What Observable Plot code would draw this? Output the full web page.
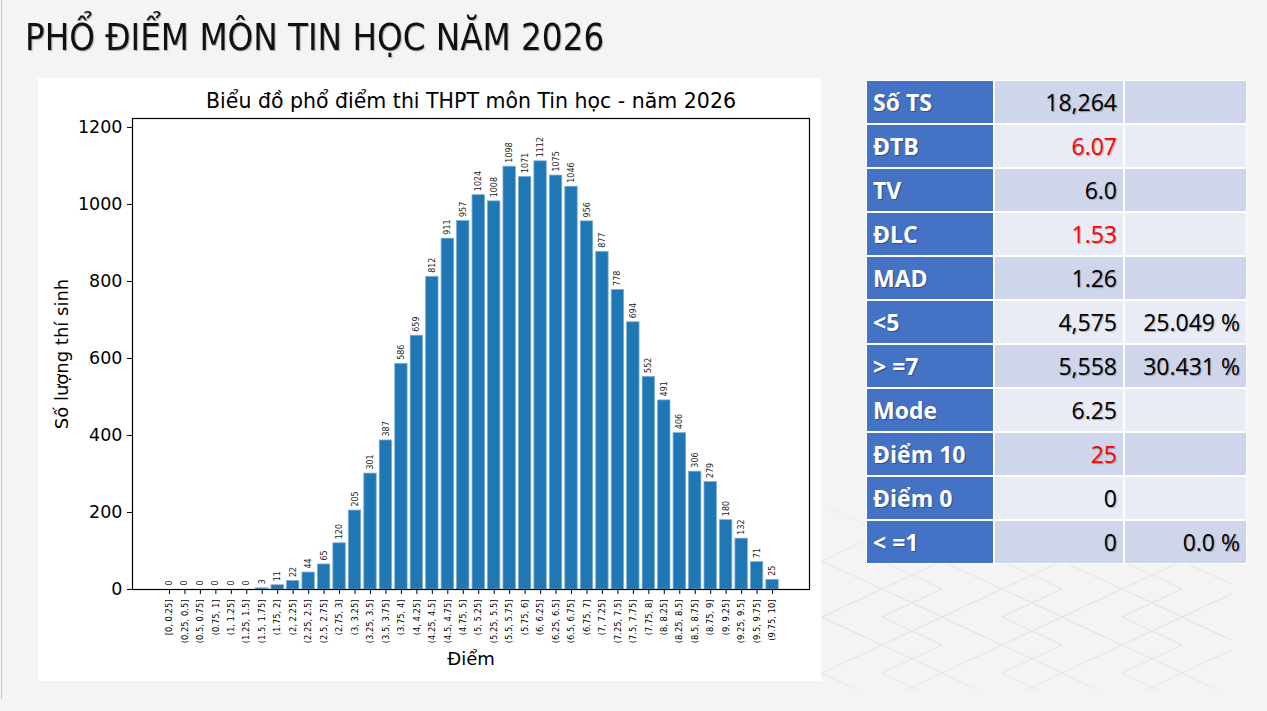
<!DOCTYPE html>
<html>
<head>
<meta charset="utf-8">
<script src="https://cdn.jsdelivr.net/npm/d3@7"></script>
<script src="https://cdn.jsdelivr.net/npm/@observablehq/plot@0.6"></script>
<style>
  html, body { margin:0; padding:0; }
  body { width:1267px; height:711px; background:#f4f4f4; position:relative; overflow:hidden; font-family:"DejaVu Sans", sans-serif; }
  #edge { position:absolute; left:1px; top:0; width:1px; height:699px; background:#c8c8c8; }
  #lattice { position:absolute; left:822px; top:505px; width:410px; height:185px;
    background-image:url("data:image/svg+xml;utf8,<svg xmlns='http://www.w3.org/2000/svg' width='120' height='56'><path d='M0 0 L120 56 M0 56 L120 0 M-60 28 L0 56 M60 0 L120 28 M0 0 L-60 28 M120 28 L60 56' stroke='%23e2e2e2' stroke-width='1.2' fill='none'/></svg>");
    -webkit-mask-image:linear-gradient(to bottom, rgba(0,0,0,0.3), rgba(0,0,0,1) 60%, rgba(0,0,0,0.6));
    mask-image:linear-gradient(to bottom, rgba(0,0,0,0.3), rgba(0,0,0,1) 60%, rgba(0,0,0,0.6)); }
  #title { position:absolute; left:25px; top:15px; font-family:"Liberation Sans Narrow", "DejaVu Sans Condensed", sans-serif; font-size:38px; color:#111; text-shadow:1px 1px 1px rgba(0,0,0,0.3); white-space:nowrap; transform:scaleX(0.955); transform-origin:left top; }
  #chart { position:absolute; left:38px; top:78px; width:783px; height:603px; background:#fff; }
  #stats { position:absolute; left:866px; top:80px; display:grid; grid-template-columns:126px 128px 121px; grid-auto-rows:42px; gap:2px; padding:1px; background:#fff; }
  #stats div { display:flex; align-items:center; font-family:"Open Sans", "Noto Sans", sans-serif; font-size:23px; text-shadow:1px 1px 1px rgba(0,0,0,0.3); box-sizing:border-box; }
  #stats .lab { background:#4472c4; color:#fff; font-weight:bold; padding-left:6px; }
  #stats .val { justify-content:flex-end; padding-right:6px; color:#000; }
  #stats .odd { background:#cfd5ea; }
  #stats .even { background:#e9ebf5; }
  #stats .red { color:#ff0000; }
</style>
</head>
<body>
<div id="edge"></div>
<div id="lattice"></div>
<div id="title">PHỔ ĐIỂM MÔN TIN HỌC NĂM 2026</div>
<div id="chart"></div>
<div id="stats"></div>
<script>
// ---- chart data ----
const binLabels = ["[0, 0.25]","(0.25, 0.5]","(0.5, 0.75]","(0.75, 1]","(1, 1.25]","(1.25, 1.5]","(1.5, 1.75]","(1.75, 2]",
  "(2, 2.25]","(2.25, 2.5]","(2.5, 2.75]","(2.75, 3]","(3, 3.25]","(3.25, 3.5]","(3.5, 3.75]","(3.75, 4]",
  "(4, 4.25]","(4.25, 4.5]","(4.5, 4.75]","(4.75, 5]","(5, 5.25]","(5.25, 5.5]","(5.5, 5.75]","(5.75, 6]",
  "(6, 6.25]","(6.25, 6.5]","(6.5, 6.75]","(6.75, 7]","(7, 7.25]","(7.25, 7.5]","(7.5, 7.75]","(7.75, 8]",
  "(8, 8.25]","(8.25, 8.5]","(8.5, 8.75]","(8.75, 9]","(9, 9.25]","(9.25, 9.5]","(9.5, 9.75]","(9.75, 10]"];
const counts = [0,0,0,0,0,0,3,11,22,44,65,120,205,301,387,586,659,812,911,957,1024,1008,1098,1071,1112,1075,1046,956,877,778,694,552,491,406,306,279,180,132,71,25];
const yTicks = [0,200,400,600,800,1000,1200];
const chartTitle = "Biểu đồ phổ điểm thi THPT môn Tin học - năm 2026";
const xLabel = "Điểm";
const yLabel = "Số lượng thí sinh";

// ---- stats table data ----
const statLabels = ["Số TS","ĐTB","TV","ĐLC","MAD","<5","> =7","Mode","Điểm 10","Điểm 0","< =1"];
const statValues = ["18,264","6.07","6.0","1.53","1.26","4,575","5,558","6.25","25","0","0"];
const statPercents = ["","","","","","25.049 %","30.431 %","","","","0.0 %"];
const statRed = [false,true,false,true,false,false,false,false,true,false,false];

const data = counts.map((c, i) => ({i, bin: binLabels[i], count: c}));
const n = counts.length;
const pad = 0.4 + 0.05 * (n - 1 + 0.8);
const ymax = d3.max(counts) * 1.1;

const plot = Plot.plot({
  width: 783, height: 603,
  marginLeft: 94, marginTop: 40, marginRight: 12, marginBottom: 92,
  style: {fontFamily: "DejaVu Sans", background: "white", overflow: "visible", color: "black"},
  x: {domain: [-pad, n - 1 + pad], axis: null},
  y: {domain: [0, ymax], axis: null},
  marks: [
    Plot.rectY(data, {x1: d => d.i - 0.4, x2: d => d.i + 0.4, y: "count", fill: "#1f77b4", stroke: "#79acd9", strokeWidth: 0.8}),
    Plot.text(data, {x: "i", y: "count", text: d => String(d.count), rotate: -90, textAnchor: "start", dy: -4, fontSize: 8, fill: "#222"}),
    Plot.axisY({ticks: yTicks, tickFormat: d => String(d), tickSize: 5, tickPadding: 5, fontSize: 17.5, label: null, stroke: "black"}),
    Plot.axisX({ticks: d3.range(n), tickFormat: i => binLabels[i], tickRotate: -90, tickSize: 5, tickPadding: 5, fontSize: 8.4, label: null, stroke: "black"}),
    Plot.frame({stroke: "black", strokeWidth: 1.2}),
    Plot.text([chartTitle], {frameAnchor: "top", text: d => d, dy: -25, fontSize: 20.5, fill: "black"}),
    Plot.text([xLabel], {frameAnchor: "bottom", text: d => d, dy: 75, fontSize: 18, fill: "black"}),
    Plot.text([yLabel], {frameAnchor: "left", text: d => d, dx: -70, rotate: -90, textAnchor: "middle", fontSize: 18, fill: "black"})
  ]
});
document.getElementById("chart").appendChild(plot);

// ---- stats table ----
const tbl = document.getElementById("stats");
statLabels.forEach((lab, r) => {
  const cls = r % 2 === 0 ? "odd" : "even";
  const a = document.createElement("div"); a.className = "lab"; a.textContent = lab; tbl.appendChild(a);
  const b = document.createElement("div"); b.className = "val " + cls + (statRed[r] ? " red" : ""); b.textContent = statValues[r]; tbl.appendChild(b);
  const c = document.createElement("div"); c.className = "val " + cls; c.textContent = statPercents[r]; tbl.appendChild(c);
});
</script>
</body>
</html>
